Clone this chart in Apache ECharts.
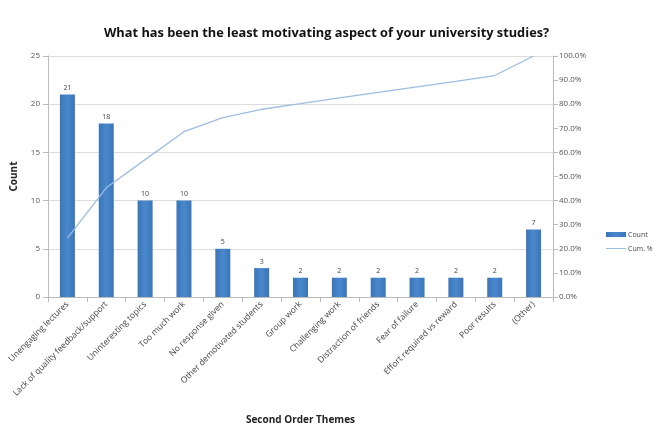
<!DOCTYPE html>
<html>
<head>
<meta charset="utf-8">
<script src="https://cdn.jsdelivr.net/npm/echarts@6/dist/echarts.min.js"></script>
<style>
  html, body { margin: 0; padding: 0; background: #fff; }
  #chart-ctn { width: 657px; height: 434px; }
</style>
</head>
<body>
<div id="chart-ctn"></div>
<script>
var categories = ['Unengaging lectures', 'Lack of quality feedback/support', 'Uninteresting topics',
  'Too much work', 'No response given', 'Other demotivated students', 'Group work',
  'Challenging work', 'Distraction of friends', 'Fear of failure', 'Effort required vs reward',
  'Poor results', '(Other)'];
var counts = [21, 18, 10, 10, 5, 3, 2, 2, 2, 2, 2, 2, 7];
var cumPct = [24.4, 45.3, 57.0, 68.6, 74.4, 77.9, 80.2, 82.6, 84.9, 87.2, 89.5, 91.9, 100];

var myChart = echarts.init(document.getElementById('chart-ctn'));

var axisText = { color: '#555', fontSize: 8, fontFamily: 'Open Sans' };

var option = {
  animation: false,
  title: {
    text: 'What has been the least motivating aspect of your university studies?',
    left: 99,
    top: 22,
    textStyle: { fontSize: 12.8, fontWeight: 'bold', color: '#111', fontFamily: 'Open Sans' }
  },
  legend: {
    orient: 'vertical',
    left: 601,
    top: 226,
    itemWidth: 20,
    itemHeight: 5,
    itemGap: 7,
    textStyle: { fontSize: 7, color: '#444', fontFamily: 'Open Sans', padding: [0, 0, 0, -3] },
    data: [
      { name: 'Count', icon: 'rect' },
      { name: 'Cum. %', icon: 'path://M0,0 L20,0 L20,1 L0,1 Z' }
    ]
  },
  grid: { left: 48, right: 104, top: 56, bottom: 137 },
  xAxis: {
    type: 'category',
    data: categories,
    name: 'Second Order Themes',
    nameLocation: 'middle',
    nameGap: 118,
    nameTextStyle: { fontSize: 10, fontWeight: 'bold', color: '#222', fontFamily: 'Open Sans' },
    axisLine: { lineStyle: { color: '#bbb' } },
    axisTick: { show: true, lineStyle: { color: '#bbb' } },
    axisLabel: { interval: 0, rotate: 45, margin: 6, color: '#444', fontSize: 8.5, fontFamily: 'Open Sans' }
  },
  yAxis: [
    {
      type: 'value',
      min: 0,
      max: 25,
      interval: 5,
      name: 'Count',
      nameLocation: 'middle',
      nameGap: 29,
      nameRotate: 90,
      nameTextStyle: { fontSize: 10, fontWeight: 'bold', color: '#222', fontFamily: 'Open Sans' },
      axisLine: { show: true, lineStyle: { color: '#bbb' } },
      axisTick: { show: true, lineStyle: { color: '#bbb' } },
      axisLabel: axisText,
      splitLine: { lineStyle: { color: '#ddd' } }
    },
    {
      type: 'value',
      min: 0,
      max: 100,
      interval: 10,
      position: 'right',
      axisLine: { show: true, lineStyle: { color: '#bbb' } },
      axisTick: { show: true, lineStyle: { color: '#bbb' } },
      axisLabel: {
        color: '#555', fontSize: 8, fontFamily: 'Open Sans', margin: 6,
        formatter: function (v) { return v.toFixed(1) + '%'; }
      },
      splitLine: { show: false }
    }
  ],
  series: [
    {
      name: 'Count',
      type: 'bar',
      data: counts,
      barWidth: 15,
      itemStyle: {
        color: new echarts.graphic.LinearGradient(0, 0, 1, 0, [
          { offset: 0, color: '#3a75b8' },
          { offset: 0.5, color: '#4a88cc' },
          { offset: 1, color: '#3a75b8' }
        ])
      },
      label: { show: true, position: 'top', distance: 3, fontSize: 7, color: '#444', fontFamily: 'Open Sans' }
    },
    {
      name: 'Cum. %',
      type: 'line',
      yAxisIndex: 1,
      data: cumPct,
      symbol: 'none',
      lineStyle: { color: '#9dbde2', width: 1.3 },
      itemStyle: { color: '#9dbde2' }
    }
  ]
};

myChart.setOption(option);
</script>
</body>
</html>
